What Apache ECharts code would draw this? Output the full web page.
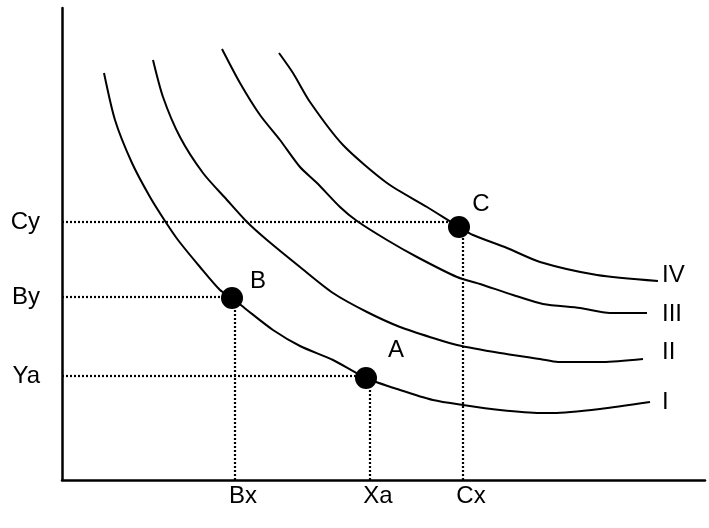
<!DOCTYPE html>
<html><head><meta charset="utf-8">
<script src="https://cdn.jsdelivr.net/npm/echarts@6/dist/echarts.min.js"></script>
<style>html,body{margin:0;padding:0;background:#fff}#c{width:709px;height:528px}</style>
</head><body><div id="c"></div>
<script>
// Indifference curves (arbitrary units, origin at axes corner)
var curveNames = ['I', 'II', 'III', 'IV'];
var curveI = [[42,407],[53,360],[70,317],[88,283],[103,259],[116,240],[138,213],[158,190],[170,182],[185,170],[211,150],[238,134],[271,120],[304,102],[338,90],[371,80],[401,75],[438,70],[478,67],[491,67],[538,71],[588,78]];
var curveII = [[91,420],[101,383],[118,343],[141,307],[165,280],[185,258],[205,240],[238,213],[271,187],[305,168],[338,153],[371,142],[395,135],[438,127],[478,121],[496,118],[541,118],[581,121]];
var curveIII = [[160,431],[178,397],[198,365],[218,340],[238,313],[255,297],[278,273],[295,259],[325,240],[355,223],[395,203],[418,196],[451,185],[481,176],[518,172],[548,167],[585,167]];
var curveIV = [[217,427],[231,407],[248,378],[281,335],[325,297],[365,273],[397,253],[411,245],[445,232],[478,218],[535,205],[596,199]];

// Marked points
var pointNames = ['A', 'B', 'C'];
var pointValues = [[304,102],[170,182],[397,253]];

// Guide (tick) values and labels
var xTickLabels = ['Bx', 'Xa', 'Cx'];
var xTickValues = [173, 308, 401];
var yTickLabels = ['Cy', 'By', 'Ya'];
var yTickValues = [258, 183, 104];
// which point each guide goes to
var xGuidePoint = [1, 0, 2];
var yGuidePoint = [2, 1, 0];

var FONT = '"Liberation Sans", Arial, sans-serif';
var FS = 24;
var curves = [curveI, curveII, curveIII, curveIV];
var endOffsets = [[4,0],[11,-7],[7,1],[-4,-6]];
var pointLabelOffsets = [[30,-28],[26,-17],[22,-23]];

var series = [];
curves.forEach(function (c, i) {
  series.push({
    type: 'line', name: curveNames[i], data: c, smooth: 0.25, symbol: 'none',
    lineStyle: { color: '#000', width: 2 }, z: 3,
    endLabel: { show: true, formatter: curveNames[i], color: '#000', fontFamily: FONT, fontSize: FS, offset: endOffsets[i] }
  });
});
xTickValues.forEach(function (v, i) {
  var p = pointValues[xGuidePoint[i]];
  series.push({ type: 'line', data: [[v, 0], [v, p[1]]], symbol: 'none', silent: true,
    lineStyle: { color: '#000', width: 2.2, type: [2, 2] }, z: 2 });
});
yTickValues.forEach(function (v, i) {
  var p = pointValues[yGuidePoint[i]];
  series.push({ type: 'line', data: [[0, v], [p[0], v]], symbol: 'none', silent: true,
    lineStyle: { color: '#000', width: 2.2, type: [2, 2] }, z: 2 });
});
series.push({
  type: 'scatter', symbolSize: 22, itemStyle: { color: '#000', opacity: 1 }, z: 5,
  data: pointValues.map(function (p, i) {
    return { value: p, label: { show: true, formatter: pointNames[i], position: 'inside', offset: pointLabelOffsets[i], color: '#000', fontFamily: FONT, fontSize: FS } };
  })
});

var chart = echarts.init(document.getElementById('c'));
chart.setOption({
  animation: false,
  backgroundColor: '#fff',
  grid: { left: 62, right: 4, top: 8, bottom: 48, containLabel: false },
  xAxis: {
    type: 'value', min: 0, max: 643,
    axisLine: { show: true, lineStyle: { color: '#000', width: 2.5 } },
    axisTick: { show: false }, splitLine: { show: false },
    axisLabel: {
      customValues: xTickValues, margin: 4, color: '#000', fontFamily: FONT, fontSize: FS, padding: [0, 0, 0, 16],
      formatter: function (v) { var i = xTickValues.indexOf(v); return i >= 0 ? xTickLabels[i] : ''; }
    }
  },
  yAxis: {
    type: 'value', min: 0, max: 472,
    axisLine: { show: true, lineStyle: { color: '#000', width: 2.5 } },
    axisTick: { show: false }, splitLine: { show: false },
    axisLabel: {
      customValues: yTickValues, margin: 22, color: '#000', fontFamily: FONT, fontSize: FS,
      formatter: function (v) { var i = yTickValues.indexOf(v); return i >= 0 ? yTickLabels[i] : ''; }
    }
  },
  series: series
});
</script></body></html>
